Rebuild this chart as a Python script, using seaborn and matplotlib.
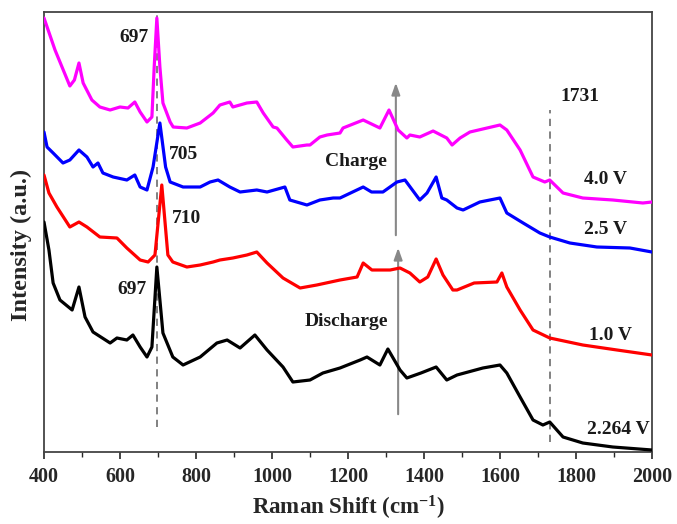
import numpy as np
import pandas as pd
import matplotlib
matplotlib.use("Agg")
import matplotlib.pyplot as plt
import seaborn as sns

# Raman spectra (wavenumber in cm^-1, intensity in a.u., vertically offset traces)
wn_40 = [400, 429, 442, 468, 480, 492, 503, 526, 547, 574, 600, 621, 639, 653, 671, 684, 690, 697, 705, 713, 732,
         740, 776, 811, 845, 863, 889, 897, 934, 960, 977, 1003, 1013, 1039, 1055, 1092, 1100, 1126, 1145,
         1179, 1187, 1240, 1284, 1308, 1332, 1355, 1363, 1389, 1424, 1460, 1474, 1495, 1521, 1600, 1618,
         1653, 1687, 1718, 1731, 1766, 1818, 1897, 1976, 2000]
int_40 = [434, 402, 390, 366, 372, 389, 369, 352, 345, 342, 345, 344, 350, 340, 330, 335, 385, 434, 385, 349, 330,
          325, 324, 329, 339, 347, 350, 345, 349, 350, 339, 325, 324, 312, 305, 307, 307, 315, 317,
          319, 324, 332, 324, 342, 322, 314, 317, 315, 321, 314, 307, 314, 320, 327, 322,
          302, 275, 270, 272, 259, 254, 252, 249, 250]

wn_25 = [400, 408, 424, 450, 468, 492, 513, 529, 542, 555, 582, 618, 639, 653, 671, 687, 705, 720, 732, 766,
         811, 837, 858, 889, 916, 960, 987, 1034, 1047, 1092, 1126, 1161, 1179, 1240, 1262, 1292, 1329,
         1350, 1389, 1408, 1432, 1447, 1460, 1487, 1503, 1547, 1600, 1618, 1661, 1705, 1731, 1784,
         1855, 1942, 2000]
int_25 = [320, 305, 299, 289, 292, 302, 295, 285, 289, 279, 275, 272, 277, 265, 262, 285, 329, 285, 270, 265,
          265, 270, 272, 265, 260, 262, 260, 265, 252, 247, 252, 254, 254, 265, 260, 260, 270,
          272, 252, 259, 275, 254, 252, 244, 242, 250, 254, 239, 229, 219, 215, 209,
          205, 204, 200]

wn_10 = [400, 413, 434, 468, 492, 513, 547, 592, 618, 653, 674, 692, 710, 726, 739, 776, 811, 845, 863, 897,
         934, 960, 987, 1029, 1074, 1118, 1179, 1224, 1240, 1263, 1311, 1337, 1363, 1389, 1410, 1432,
         1450, 1476, 1487, 1532, 1592, 1605, 1618, 1653, 1687, 1731, 1818, 1908, 2000]
int_10 = [277, 259, 245, 225, 230, 225, 215, 214, 204, 192, 190, 197, 267, 197, 190, 185, 187, 190, 192, 194,
          197, 200, 189, 174, 164, 167, 172, 175, 189, 182, 182, 184, 179, 170, 175, 193,
          177, 162, 162, 169, 170, 179, 165, 142, 122, 114, 107, 102, 97]

wn_2264 = [400, 413, 424, 442, 474, 492, 508, 529, 574, 592, 618, 634, 653, 671, 684, 697, 713, 739, 766, 811,
           855, 882, 916, 955, 987, 1029, 1055, 1100, 1134, 1161, 1179, 1232, 1250, 1284, 1305, 1337,
           1355, 1392, 1432, 1460, 1487, 1555, 1600, 1618, 1653, 1687, 1713, 1731, 1766, 1818, 1897, 2000]
int_2264 = [230, 202, 169, 152, 142, 165, 135, 120, 109, 114, 112, 117, 105, 95, 105, 185, 119, 95, 87, 95,
            109, 112, 104, 117, 102, 85, 70, 72, 79, 82, 84, 92, 95, 87, 103, 82,
            74, 79, 85, 72, 77, 84, 87, 79, 55, 32, 27, 30, 15, 9, 5, 2]

series_names = ["4.0 V", "2.5 V", "1.0 V", "2.264 V"]
series_colors = ["#ff00ff", "#0000ff", "#ff0000", "#000000"]

# Peak markers and process arrows
peak_lines = [697, 1731]
peak_labels = ["697", "705", "710", "697", "1731"]
charge_arrow_x = 1326
discharge_arrow_x = 1332

frames = []
for name, x, y in zip(series_names, [wn_40, wn_25, wn_10, wn_2264], [int_40, int_25, int_10, int_2264]):
    frames.append(pd.DataFrame({"shift": x, "intensity": y, "state": name}))
df = pd.concat(frames, ignore_index=True)

sns.set_style("ticks")
plt.rcParams["font.family"] = ["Liberation Serif", "DejaVu Serif"]
plt.rcParams["font.weight"] = "bold"
plt.rcParams["mathtext.fontset"] = "custom"
plt.rcParams["mathtext.rm"] = "Liberation Serif:bold"
plt.rcParams["mathtext.bf"] = "Liberation Serif:bold"
plt.rcParams["mathtext.default"] = "bf"

fig = plt.figure(figsize=(6.77, 5.24), dpi=100)
ax = fig.add_axes([0.065, 0.1374, 0.898, 0.8397])

# dashed guide lines at the characteristic peaks
ax.plot([peak_lines[0], peak_lines[0]], [25, 437], ls=(0, (4, 3)), color="#777777", lw=1.3, zorder=1)
ax.plot([peak_lines[1], peak_lines[1]], [10, 342], ls=(0, (4, 3)), color="#777777", lw=1.3, zorder=1)

sns.lineplot(data=df, x="shift", y="intensity", hue="state", hue_order=series_names,
             palette=series_colors, estimator=None, sort=False, legend=False,
             linewidth=2.3, ax=ax, zorder=3)

# charge / discharge arrows
arrow_style = dict(arrowstyle="-|>,head_length=0.7,head_width=0.25", color="#888888", lw=1.5)
ax.annotate("", xy=(charge_arrow_x, 372), xytext=(charge_arrow_x, 214), arrowprops=arrow_style, zorder=2)
ax.annotate("", xy=(discharge_arrow_x, 207), xytext=(discharge_arrow_x, 35), arrowprops=arrow_style, zorder=2)

tkw = dict(fontsize=14, fontweight="bold", color="#1a1a1a", ha="center", va="center")
ax.text(638, 414, peak_labels[0], **tkw)
ax.text(768, 298, peak_labels[1], **tkw)
ax.text(774, 234, peak_labels[2], **tkw)
ax.text(632, 163, peak_labels[3], **tkw)
ax.text(1811, 356, peak_labels[4], **tkw)
ax.text(1221, 291, "Charge", **tkw)
ax.text(1197, 131, "Discharge", **tkw)
ax.text(1879, 273, series_names[0], **tkw)
ax.text(1879, 223, series_names[1], **tkw)
ax.text(1892, 117, series_names[2], **tkw)
ax.text(1911, 23, series_names[3], **tkw)

ax.set_xlim(400, 2000)
ax.set_ylim(0, 440)
ax.set_xticks(np.arange(400, 2001, 200))
ax.set_xticks(np.arange(500, 2000, 200), minor=True)
ax.set_yticks([])
ax.tick_params(axis="x", which="major", length=5, width=1.2, direction="out", labelsize=14.5, pad=6)
ax.tick_params(axis="x", which="minor", length=3.5, width=1.0, direction="out")
for lbl in ax.get_xticklabels():
    lbl.set_fontweight("bold")

for side in ["left", "right", "top", "bottom"]:
    ax.spines[side].set_visible(True)
    ax.spines[side].set_color("#444444")
    ax.spines[side].set_linewidth(1.3)

ax.set_xlabel(r"Raman Shift (cm$^{-1}$)", fontsize=16.5, fontweight="bold", labelpad=5)
ax.set_ylabel("Intensity (a.u.)", fontsize=17.5, fontweight="bold")
ax.yaxis.set_label_coords(-0.019, 0.47)

fig.savefig("out.png", dpi=100)
